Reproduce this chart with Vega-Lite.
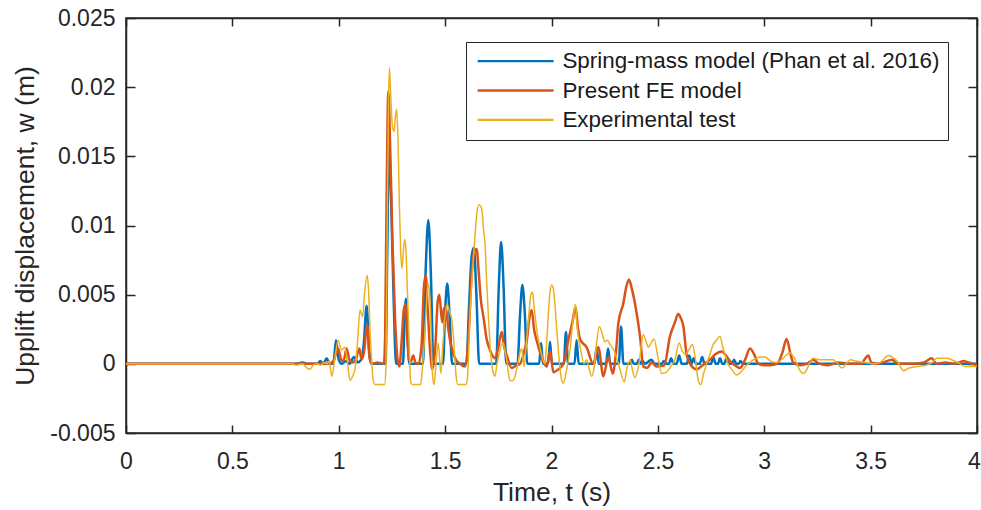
{
  "$schema": "https://vega.github.io/schema/vega-lite/v6.json",
  "width": 851,
  "height": 415,
  "autosize": "none",
  "padding": {"left": 126, "top": 18, "right": 4, "bottom": 77},
  "background": "white",
  "config": {
    "view": {"stroke": "#262626", "strokeWidth": 1.5},
    "font": "Liberation Sans",
    "axis": {
      "domainColor": "#262626", "domainWidth": 1.5,
      "tickColor": "#262626", "tickWidth": 1.5,
      "labelColor": "#262626", "titleColor": "#262626",
      "labelFont": "Liberation Sans", "titleFont": "Liberation Sans",
      "labelFontSize": 23, "titleFontSize": 26.5, "titleFontWeight": "normal",
      "grid": false, "labelFlush": false, "labelOverlap": false
    },
    "legend": {
      "labelFont": "Liberation Sans", "labelFontSize": 22.4, "labelColor": "#1a1a1a"
    }
  },
  "datasets": {
    "spring": [
      {"t":0,"w":0},{"t":0.8,"w":0},{"t":0.83,"w":0.0001},{"t":0.85,"w":0},{"t":0.9,"w":0},{"t":0.913,"w":0.0002},{"t":0.928,"w":0},{"t":0.943,"w":0.0004},{"t":0.958,"w":0},{"t":0.975,"w":0},{"t":0.987,"w":0.0017},{"t":1.0,"w":0.0003},{"t":1.015,"w":0},{"t":1.035,"w":0.0002},{"t":1.05,"w":0},{"t":1.072,"w":0.0005},{"t":1.09,"w":0.0001},{"t":1.105,"w":0.0003},{"t":1.118,"w":0.0015},{"t":1.131,"w":0.0042},{"t":1.142,"w":0.0012},{"t":1.152,"w":0},{"t":1.22,"w":0},{"t":1.228,"w":0.008},{"t":1.236,"w":0.0158},{"t":1.245,"w":0.0125},{"t":1.255,"w":0.0065},{"t":1.264,"w":0.0015},{"t":1.27,"w":0},{"t":1.302,"w":0},{"t":1.309,"w":0.003},{"t":1.316,"w":0.0047},{"t":1.324,"w":0.002},{"t":1.332,"w":0},{"t":1.396,"w":0},{"t":1.408,"w":0.0065},{"t":1.421,"w":0.0104},{"t":1.433,"w":0.0065},{"t":1.445,"w":0},{"t":1.49,"w":0},{"t":1.5,"w":0.0038},{"t":1.51,"w":0.0058},{"t":1.521,"w":0.0035},{"t":1.533,"w":0},{"t":1.6,"w":0},{"t":1.612,"w":0.004},{"t":1.625,"w":0.0078},{"t":1.635,"w":0.0084},{"t":1.647,"w":0.005},{"t":1.66,"w":0},{"t":1.74,"w":0},{"t":1.752,"w":0.0055},{"t":1.763,"w":0.0088},{"t":1.775,"w":0.0055},{"t":1.787,"w":0},{"t":1.84,"w":0},{"t":1.852,"w":0.0035},{"t":1.863,"w":0.0057},{"t":1.875,"w":0.0035},{"t":1.886,"w":0},{"t":1.942,"w":0},{"t":1.951,"w":0.0015},{"t":1.96,"w":0},{"t":1.984,"w":0},{"t":1.993,"w":0.0016},{"t":2.002,"w":0},{"t":2.058,"w":0},{"t":2.068,"w":0.0023},{"t":2.078,"w":0},{"t":2.108,"w":0},{"t":2.118,"w":0.0017},{"t":2.128,"w":0},{"t":2.202,"w":0},{"t":2.212,"w":0.0012},{"t":2.222,"w":0},{"t":2.256,"w":0},{"t":2.266,"w":0.0011},{"t":2.276,"w":0},{"t":2.316,"w":0},{"t":2.327,"w":0.0027},{"t":2.338,"w":0},{"t":2.37,"w":0},{"t":2.378,"w":0.0003},{"t":2.386,"w":0},{"t":2.402,"w":0},{"t":2.41,"w":0.0003},{"t":2.418,"w":0},{"t":2.428,"w":0.0002},{"t":2.44,"w":0},{"t":2.47,"w":0.0003},{"t":2.485,"w":0},{"t":2.518,"w":0},{"t":2.528,"w":0.0002},{"t":2.54,"w":0},{"t":2.552,"w":0},{"t":2.562,"w":0.0004},{"t":2.574,"w":0},{"t":2.588,"w":0},{"t":2.6,"w":0.0006},{"t":2.612,"w":0},{"t":2.636,"w":0},{"t":2.647,"w":0.0006},{"t":2.658,"w":0},{"t":2.668,"w":0.0004},{"t":2.68,"w":0},{"t":2.697,"w":0},{"t":2.708,"w":0.0005},{"t":2.72,"w":0},{"t":2.75,"w":0},{"t":2.76,"w":0.0005},{"t":2.772,"w":0},{"t":2.782,"w":0},{"t":2.792,"w":0.0004},{"t":2.803,"w":0},{"t":2.812,"w":0},{"t":2.822,"w":0.0004},{"t":2.833,"w":0},{"t":2.848,"w":0},{"t":2.858,"w":0.0003},{"t":2.868,"w":0},{"t":2.88,"w":0},{"t":2.888,"w":0.0002},{"t":2.9,"w":0},{"t":4,"w":0}
    ],
    "fe": [
      {"t":0,"w":0},{"t":0.95,"w":0},{"t":0.975,"w":0.0002},{"t":0.997,"w":0.0011},{"t":1.012,"w":0.0003},{"t":1.022,"w":0.0002},{"t":1.037,"w":0.0011},{"t":1.05,"w":0.0003},{"t":1.065,"w":0.0001},{"t":1.08,"w":0.0003},{"t":1.097,"w":0.0011},{"t":1.107,"w":0.0003},{"t":1.118,"w":0.0008},{"t":1.134,"w":0.0028},{"t":1.145,"w":0.0004},{"t":1.16,"w":0},{"t":1.18,"w":0.0001},{"t":1.212,"w":0},{"t":1.218,"w":0.002},{"t":1.225,"w":0.012},{"t":1.233,"w":0.0197},{"t":1.242,"w":0.0155},{"t":1.252,"w":0.009},{"t":1.265,"w":0.0032},{"t":1.275,"w":0.0005},{"t":1.285,"w":-0.0002},{"t":1.295,"w":0.0015},{"t":1.305,"w":0.0038},{"t":1.313,"w":0.0043},{"t":1.322,"w":0.002},{"t":1.33,"w":0.0003},{"t":1.34,"w":0.0002},{"t":1.35,"w":0.0006},{"t":1.36,"w":0.0001},{"t":1.375,"w":0},{"t":1.39,"w":0.0015},{"t":1.4,"w":0.0055},{"t":1.409,"w":0.0064},{"t":1.418,"w":0.004},{"t":1.43,"w":0.0008},{"t":1.44,"w":-0.0004},{"t":1.455,"w":0.0015},{"t":1.465,"w":0.0045},{"t":1.473,"w":0.005},{"t":1.486,"w":0.003},{"t":1.495,"w":0.004},{"t":1.503,"w":0.0041},{"t":1.515,"w":0.0025},{"t":1.53,"w":0.0012},{"t":1.55,"w":0.0003},{"t":1.57,"w":0},{"t":1.593,"w":-0.0002},{"t":1.61,"w":0.002},{"t":1.625,"w":0.0065},{"t":1.638,"w":0.0082},{"t":1.648,"w":0.0083},{"t":1.658,"w":0.0066},{"t":1.668,"w":0.0046},{"t":1.68,"w":0.0034},{"t":1.695,"w":0.0018},{"t":1.711,"w":0.001},{"t":1.734,"w":0.0004},{"t":1.75,"w":0.0012},{"t":1.766,"w":0.0023},{"t":1.778,"w":0.0012},{"t":1.79,"w":0.0006},{"t":1.813,"w":-0.0003},{"t":1.835,"w":-0.0001},{"t":1.852,"w":0},{"t":1.87,"w":0.0008},{"t":1.885,"w":0.0018},{"t":1.895,"w":0.0032},{"t":1.907,"w":0.0039},{"t":1.918,"w":0.0025},{"t":1.93,"w":0.0017},{"t":1.954,"w":0.0005},{"t":1.977,"w":-0.0002},{"t":1.993,"w":0.0009},{"t":2.009,"w":-0.0006},{"t":2.032,"w":-0.0004},{"t":2.056,"w":0},{"t":2.079,"w":0.0017},{"t":2.098,"w":0.003},{"t":2.113,"w":0.0041},{"t":2.125,"w":0.0025},{"t":2.134,"w":0.0018},{"t":2.165,"w":0.0012},{"t":2.196,"w":0},{"t":2.22,"w":0.0012},{"t":2.244,"w":-0.0009},{"t":2.267,"w":0.0005},{"t":2.288,"w":-0.0007},{"t":2.305,"w":0.0012},{"t":2.314,"w":0.0029},{"t":2.338,"w":0.0044},{"t":2.352,"w":0.0056},{"t":2.364,"w":0.0061},{"t":2.378,"w":0.0054},{"t":2.392,"w":0.0044},{"t":2.416,"w":0.002},{"t":2.432,"w":-0.0002},{"t":2.45,"w":-0.0003},{"t":2.471,"w":0.0001},{"t":2.494,"w":-0.0002},{"t":2.53,"w":-0.0001},{"t":2.557,"w":0.002},{"t":2.58,"w":0.003},{"t":2.596,"w":0.0036},{"t":2.608,"w":0.0033},{"t":2.62,"w":0.0027},{"t":2.636,"w":0.0006},{"t":2.667,"w":-0.0003},{"t":2.683,"w":-0.0004},{"t":2.71,"w":-0.0001},{"t":2.745,"w":0.0003},{"t":2.77,"w":0.0007},{"t":2.8,"w":0.0009},{"t":2.82,"w":0.0006},{"t":2.839,"w":0.0002},{"t":2.862,"w":-0.0001},{"t":2.886,"w":-0.0003},{"t":2.91,"w":0.0003},{"t":2.933,"w":0.0011},{"t":2.952,"w":0.0007},{"t":2.972,"w":0},{"t":3.0,"w":-0.0001},{"t":3.027,"w":-0.0001},{"t":3.06,"w":0},{"t":3.085,"w":0.0008},{"t":3.105,"w":0.0018},{"t":3.122,"w":0.0008},{"t":3.136,"w":0.0001},{"t":3.17,"w":-0.0001},{"t":3.2,"w":0},{"t":3.23,"w":0.0003},{"t":3.26,"w":0},{"t":3.3,"w":-0.0001},{"t":3.35,"w":0.0001},{"t":3.4,"w":0},{"t":3.455,"w":0},{"t":3.475,"w":0.0004},{"t":3.489,"w":0.0006},{"t":3.503,"w":0.0001},{"t":3.53,"w":0},{"t":3.56,"w":0.0001},{"t":3.6,"w":0.0003},{"t":3.63,"w":0},{"t":3.7,"w":0},{"t":3.75,"w":0.0001},{"t":3.787,"w":0.0004},{"t":3.81,"w":0},{"t":3.85,"w":0.0001},{"t":3.9,"w":0},{"t":3.935,"w":0.0002},{"t":3.96,"w":0.0001},{"t":4,"w":-0.0001}
    ],
    "exp": [
      {"t":0,"w":0},{"t":0.78,"w":0},{"t":0.8,"w":-0.0001},{"t":0.83,"w":0},{"t":0.85,"w":-0.0003},{"t":0.865,"w":-0.0004},{"t":0.88,"w":-0.0001},{"t":0.9,"w":0},{"t":0.915,"w":-0.0001},{"t":0.93,"w":0.0001},{"t":0.945,"w":0},{"t":0.955,"w":0.0002},{"t":0.967,"w":-0.0009},{"t":0.98,"w":0.0002},{"t":0.997,"w":0.0017},{"t":1.013,"w":0.001},{"t":1.029,"w":0.0012},{"t":1.04,"w":0.0002},{"t":1.053,"w":-0.0012},{"t":1.065,"w":-0.0009},{"t":1.076,"w":-0.0004},{"t":1.088,"w":0.0015},{"t":1.1,"w":0.0039},{"t":1.112,"w":0.0034},{"t":1.122,"w":0.0052},{"t":1.134,"w":0.0064},{"t":1.141,"w":0.005},{"t":1.147,"w":0.0024},{"t":1.155,"w":0.0002},{"t":1.162,"w":-0.0012},{"t":1.172,"w":-0.0015},{"t":1.215,"w":-0.0015},{"t":1.222,"w":-0.0002},{"t":1.228,"w":0.01},{"t":1.234,"w":0.019},{"t":1.238,"w":0.0214},{"t":1.244,"w":0.0195},{"t":1.252,"w":0.0172},{"t":1.26,"w":0.0168},{"t":1.266,"w":0.0178},{"t":1.272,"w":0.0184},{"t":1.278,"w":0.0165},{"t":1.285,"w":0.0115},{"t":1.291,"w":0.0082},{"t":1.297,"w":0.0069},{"t":1.304,"w":0.0082},{"t":1.31,"w":0.009},{"t":1.316,"w":0.0082},{"t":1.322,"w":0.0055},{"t":1.327,"w":0.0034},{"t":1.333,"w":0.0005},{"t":1.338,"w":-0.0013},{"t":1.345,"w":-0.0015},{"t":1.385,"w":-0.0015},{"t":1.392,"w":-0.0005},{"t":1.4,"w":0.001},{"t":1.41,"w":0.0038},{"t":1.42,"w":0.0058},{"t":1.426,"w":0.0052},{"t":1.431,"w":0.0039},{"t":1.436,"w":0.0012},{"t":1.441,"w":-0.0008},{"t":1.448,"w":-0.0015},{"t":1.458,"w":0.0002},{"t":1.468,"w":0.0015},{"t":1.475,"w":0.0002},{"t":1.48,"w":-0.0007},{"t":1.49,"w":0.0015},{"t":1.5,"w":0.0035},{"t":1.51,"w":0.0043},{"t":1.52,"w":0.0038},{"t":1.53,"w":0.0033},{"t":1.538,"w":0.0022},{"t":1.545,"w":0.0005},{"t":1.551,"w":-0.0008},{"t":1.56,"w":-0.0015},{"t":1.6,"w":-0.0015},{"t":1.607,"w":-0.0005},{"t":1.617,"w":0.0036},{"t":1.628,"w":0.0065},{"t":1.64,"w":0.0092},{"t":1.65,"w":0.011},{"t":1.659,"w":0.0115},{"t":1.672,"w":0.0112},{"t":1.68,"w":0.0098},{"t":1.688,"w":0.0085},{"t":1.695,"w":0.006},{"t":1.703,"w":0.0036},{"t":1.711,"w":0.0014},{"t":1.719,"w":0},{"t":1.727,"w":-0.0007},{"t":1.734,"w":-0.0009},{"t":1.745,"w":0.0001},{"t":1.755,"w":0.0008},{"t":1.765,"w":0.0014},{"t":1.773,"w":0.0015},{"t":1.781,"w":0.0009},{"t":1.789,"w":0.0003},{"t":1.797,"w":-0.0006},{"t":1.805,"w":-0.0012},{"t":1.82,"w":-0.0012},{"t":1.83,"w":-0.0008},{"t":1.839,"w":-0.0002},{"t":1.85,"w":0.0007},{"t":1.86,"w":0.0011},{"t":1.866,"w":0.0004},{"t":1.871,"w":-0.0002},{"t":1.877,"w":0.0006},{"t":1.883,"w":0.0017},{"t":1.895,"w":0.0038},{"t":1.903,"w":0.005},{"t":1.91,"w":0.0052},{"t":1.916,"w":0.0045},{"t":1.922,"w":0.0036},{"t":1.935,"w":0.002},{"t":1.946,"w":0.0012},{"t":1.958,"w":0.0004},{"t":1.969,"w":0},{"t":1.977,"w":0.0015},{"t":1.985,"w":0.0036},{"t":1.993,"w":0.0052},{"t":2.0,"w":0.0057},{"t":2.008,"w":0.0055},{"t":2.016,"w":0.0043},{"t":2.027,"w":0.002},{"t":2.039,"w":-0.0002},{"t":2.048,"w":-0.0012},{"t":2.056,"w":-0.0014},{"t":2.07,"w":-0.0005},{"t":2.087,"w":0.001},{"t":2.1,"w":0.003},{"t":2.113,"w":0.0043},{"t":2.122,"w":0.0025},{"t":2.135,"w":0.0012},{"t":2.153,"w":0},{"t":2.165,"w":0.0003},{"t":2.176,"w":-0.0003},{"t":2.189,"w":-0.0009},{"t":2.2,"w":-0.0003},{"t":2.212,"w":0.0015},{"t":2.225,"w":0.0027},{"t":2.238,"w":0.0022},{"t":2.251,"w":0.0016},{"t":2.262,"w":0.0017},{"t":2.275,"w":0.0014},{"t":2.298,"w":0.0008},{"t":2.318,"w":-0.0002},{"t":2.342,"w":-0.0013},{"t":2.355,"w":-0.0003},{"t":2.369,"w":0.0003},{"t":2.38,"w":-0.0004},{"t":2.392,"w":-0.001},{"t":2.41,"w":-0.0001},{"t":2.432,"w":0.0021},{"t":2.445,"w":0.0016},{"t":2.455,"w":0.0012},{"t":2.468,"w":0.0015},{"t":2.482,"w":0.0018},{"t":2.5,"w":0.0005},{"t":2.518,"w":-0.0007},{"t":2.54,"w":-0.0006},{"t":2.56,"w":-0.0002},{"t":2.58,"w":0.0003},{"t":2.6,"w":0.0015},{"t":2.615,"w":0.0009},{"t":2.63,"w":0.0007},{"t":2.645,"w":0.001},{"t":2.662,"w":0.0014},{"t":2.675,"w":0.0005},{"t":2.69,"w":-0.0012},{"t":2.702,"w":-0.0015},{"t":2.715,"w":-0.0007},{"t":2.729,"w":0},{"t":2.745,"w":0.0007},{"t":2.76,"w":0.0014},{"t":2.775,"w":0.0017},{"t":2.792,"w":0.002},{"t":2.805,"w":0.0012},{"t":2.815,"w":0.0007},{"t":2.83,"w":0},{"t":2.847,"w":-0.0004},{"t":2.87,"w":-0.0008},{"t":2.895,"w":-0.0005},{"t":2.917,"w":-0.0001},{"t":2.94,"w":0.0002},{"t":2.964,"w":0.0004},{"t":2.985,"w":0.0005},{"t":3.003,"w":0.0005},{"t":3.03,"w":0.0002},{"t":3.058,"w":0.0001},{"t":3.089,"w":0.0004},{"t":3.12,"w":0.0008},{"t":3.145,"w":0.0003},{"t":3.165,"w":-0.0004},{"t":3.184,"w":-0.0007},{"t":3.2,"w":-0.0004},{"t":3.215,"w":0.0001},{"t":3.23,"w":0.0004},{"t":3.26,"w":0.0003},{"t":3.3,"w":0.0003},{"t":3.325,"w":0.0003},{"t":3.345,"w":0},{"t":3.365,"w":-0.0003},{"t":3.385,"w":0},{"t":3.404,"w":0.0003},{"t":3.43,"w":0.0002},{"t":3.47,"w":0.0001},{"t":3.52,"w":0},{"t":3.545,"w":0.0001},{"t":3.565,"w":0.0004},{"t":3.583,"w":0.0006},{"t":3.61,"w":0.0004},{"t":3.63,"w":0.0001},{"t":3.654,"w":-0.0005},{"t":3.68,"w":-0.0003},{"t":3.72,"w":-0.0002},{"t":3.76,"w":-0.0001},{"t":3.79,"w":0.0001},{"t":3.811,"w":0.0004},{"t":3.84,"w":0.0004},{"t":3.858,"w":0.0004},{"t":3.88,"w":0.0003},{"t":3.91,"w":0.0001},{"t":3.944,"w":-0.0002},{"t":3.97,"w":-0.0002},{"t":4,"w":-0.0002}
    ]
  },
  "resolve": {"axis": {"x": "independent", "y": "independent"}},
  "layer": [
    {
      "data": {"name": "spring"},
      "mark": {"type": "line", "strokeWidth": 2.5, "interpolate": "monotone", "clip": true},
      "encoding": {
        "x": {"field": "t", "type": "quantitative", "scale": {"domain": [0, 4], "nice": false, "zero": false},
          "axis": {"orient": "bottom", "values": [0,0.5,1,1.5,2,2.5,3,3.5,4], "tickSize": -8, "labelPadding": 25, "labelExpr": "'' + datum.value",
            "labelOffset": {"condition": {"test": "datum.value === 4", "value": -3}, "value": 0},
            "title": "Time, t (s)", "titlePadding": 6}},
        "y": {"field": "w", "type": "quantitative", "scale": {"domain": [-0.005, 0.025], "nice": false, "zero": false},
          "axis": {"orient": "left", "values": [-0.005,0,0.005,0.01,0.015,0.02,0.025], "tickSize": -9, "labelPadding": 20, "labelExpr": "'' + datum.value", "title": "Upplift displacement, w (m)", "titlePadding": 10}},
        "color": {"datum": "Spring-mass model (Phan et al. 2016)", "type": "nominal",
          "scale": {"domain": ["Spring-mass model (Phan et al. 2016)", "Present FE model", "Experimental test"], "range": ["#0072BD", "#D95319", "#EDB120"]},
          "legend": {"title": null, "orient": "none", "legendX": 340, "legendY": 24, "padding": 8, "strokeColor": "#262626", "fillColor": "white",
            "symbolType": "M-0.8,0H7.2", "symbolSize": 361, "symbolStrokeWidth": 2.3, "labelOffset": 66, "rowPadding": 6.3, "labelLimit": 600}}
      }
    },
    {
      "data": {"name": "fe"},
      "mark": {"type": "line", "strokeWidth": 2.5, "interpolate": "monotone", "clip": true},
      "encoding": {
        "x": {"field": "t", "type": "quantitative",
          "axis": {"orient": "top", "values": [0,0.5,1,1.5,2,2.5,3,3.5,4], "tickSize": -8, "labels": false, "title": null}},
        "y": {"field": "w", "type": "quantitative",
          "axis": {"orient": "right", "values": [-0.005,0,0.005,0.01,0.015,0.02,0.025], "tickSize": -9, "labels": false, "title": null}},
        "color": {"datum": "Present FE model", "type": "nominal"}
      }
    },
    {
      "data": {"name": "exp"},
      "mark": {"type": "line", "strokeWidth": 1.5, "interpolate": "monotone", "clip": true},
      "encoding": {
        "x": {"field": "t", "type": "quantitative", "axis": null},
        "y": {"field": "w", "type": "quantitative", "axis": null},
        "color": {"datum": "Experimental test", "type": "nominal"}
      }
    }
  ]
}
